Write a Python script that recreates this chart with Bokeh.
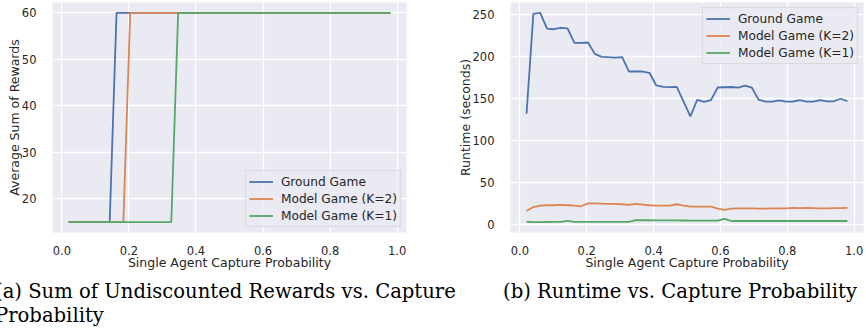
from bokeh.plotting import figure
from bokeh.models import Range1d, FixedTicker, PrintfTickFormatter, Div
from bokeh.layouts import row, column
from bokeh.embed import file_html
from bokeh.resources import INLINE

# ---------------- data ----------------
capture_prob = [0.02, 0.0404, 0.0609, 0.0813, 0.1017, 0.1221, 0.1426, 0.163, 0.1834, 0.2038,
                0.2243, 0.2447, 0.2651, 0.2855, 0.306, 0.3264, 0.3468, 0.3672, 0.3877, 0.4081,
                0.4285, 0.4489, 0.4694, 0.4898, 0.5102, 0.5306, 0.5511, 0.5715, 0.5919, 0.6123,
                0.6328, 0.6532, 0.6736, 0.694, 0.7145, 0.7349, 0.7553, 0.7757, 0.7962, 0.8166,
                0.837, 0.8574, 0.8779, 0.8983, 0.9187, 0.9391, 0.9596, 0.98]

reward_ground = [15, 15, 15, 15, 15, 15, 15, 60, 60, 60, 60, 60, 60, 60, 60, 60, 60, 60, 60, 60,
                 60, 60, 60, 60, 60, 60, 60, 60, 60, 60, 60, 60, 60, 60, 60, 60, 60, 60, 60, 60,
                 60, 60, 60, 60, 60, 60, 60, 60]
reward_k2 = [15, 15, 15, 15, 15, 15, 15, 15, 15, 60, 60, 60, 60, 60, 60, 60, 60, 60, 60, 60,
             60, 60, 60, 60, 60, 60, 60, 60, 60, 60, 60, 60, 60, 60, 60, 60, 60, 60, 60, 60,
             60, 60, 60, 60, 60, 60, 60, 60]
reward_k1 = [15, 15, 15, 15, 15, 15, 15, 15, 15, 15, 15, 15, 15, 15, 15, 15, 60, 60, 60, 60,
             60, 60, 60, 60, 60, 60, 60, 60, 60, 60, 60, 60, 60, 60, 60, 60, 60, 60, 60, 60,
             60, 60, 60, 60, 60, 60, 60, 60]

runtime_ground = [131.5, 250.2, 251.4, 232.8, 232.0, 233.6, 233.1, 215.8, 215.8, 216.2,
                  202.7, 199.2, 198.7, 198.3, 198.7, 181.7, 181.7, 181.7, 180.2, 165.1,
                  163.5, 163.1, 163.5, 145.8, 128.3, 148.1, 145.7, 147.6, 162.7, 163.0,
                  163.3, 162.6, 165.0, 162.5, 148.0, 146.0, 146.0, 147.3, 146.0, 146.0,
                  147.6, 146.0, 146.0, 147.6, 146.3, 146.3, 149.3, 146.3]
runtime_k2 = [15.8, 20.5, 22.2, 22.6, 22.6, 23.0, 22.6, 22.2, 21.4, 24.9,
              24.9, 24.5, 24.2, 24.2, 23.8, 23.0, 24.2, 23.4, 22.6, 22.2,
              22.2, 22.2, 23.8, 22.2, 21.0, 21.0, 21.0, 21.0, 18.6, 17.0,
              18.6, 19.0, 19.0, 19.0, 18.6, 18.6, 18.8, 19.0, 19.0, 19.4,
              19.2, 19.4, 19.2, 19.0, 18.8, 19.2, 19.2, 19.4]
runtime_k1 = [3.0, 2.6, 2.6, 2.7, 2.8, 2.8, 4.0, 2.8, 2.8, 2.8,
              2.8, 2.8, 2.8, 2.8, 2.8, 2.9, 4.8, 4.8, 4.8, 4.7,
              4.7, 4.6, 4.6, 4.5, 4.4, 4.3, 4.3, 4.3, 4.3, 6.5,
              3.9, 3.9, 3.9, 3.9, 3.9, 3.9, 3.9, 3.9, 3.9, 3.9,
              3.9, 3.9, 3.9, 3.9, 3.9, 3.9, 3.9, 3.9]

series_labels = ["Ground Game", "Model Game (K=2)", "Model Game (K=1)"]
colors = ["#4c72b0", "#dd8452", "#55a868"]
x_ticks = [0.0, 0.2, 0.4, 0.6, 0.8, 1.0]
reward_ticks = [20, 30, 40, 50, 60]
runtime_ticks = [0, 50, 100, 150, 200, 250]

TXT = "#262626"


def style(p, yticks, ylabel):
    p.background_fill_color = "#eaeaf2"
    p.border_fill_color = "white"
    p.outline_line_color = None
    p.grid.grid_line_color = "white"
    p.grid.grid_line_width = 1.3
    p.xaxis.ticker = FixedTicker(ticks=x_ticks)
    p.yaxis.ticker = FixedTicker(ticks=yticks)
    p.xaxis.formatter = PrintfTickFormatter(format="%.1f")
    p.xaxis.axis_label = "Single Agent Capture Probability"
    p.yaxis.axis_label = ylabel
    for ax in (p.xaxis[0], p.yaxis[0]):
        ax.axis_line_color = None
        ax.major_tick_line_color = None
        ax.minor_tick_line_color = None
        ax.major_label_text_font = "DejaVu Sans"
        ax.major_label_text_font_size = "11.5px"
        ax.major_label_text_color = TXT
        ax.axis_label_text_font = "DejaVu Sans"
        ax.axis_label_text_font_size = "12.5px"
        ax.axis_label_text_font_style = "normal"
        ax.axis_label_text_color = TXT
    p.xaxis.major_label_standoff = 7
    p.xaxis.axis_label_standoff = -3
    p.yaxis.major_label_standoff = 10
    p.yaxis.axis_label_standoff = -3


def style_legend(p, loc):
    lg = p.legend[0]
    lg.location = loc
    lg.margin = 5
    lg.padding = 3
    lg.spacing = 2
    lg.glyph_width = 24
    lg.glyph_height = 15
    lg.label_height = 15
    lg.label_standoff = 8
    lg.label_text_font = "DejaVu Sans"
    lg.label_text_font_size = "12.2px"
    lg.label_text_color = TXT
    lg.background_fill_color = "#eaeaf2"
    lg.background_fill_alpha = 0.8
    lg.border_line_color = "#cccccc"
    lg.border_line_width = 1


# ---------------- left: rewards ----------------
p1 = figure(frame_width=354, frame_height=230, min_border_left=52, min_border_right=27,
            min_border_top=2, min_border_bottom=42,
            x_range=Range1d(-0.028, 1.028), y_range=Range1d(12.75, 62.25),
            output_backend="svg", toolbar_location=None)
for ys, c, lab in zip([reward_ground, reward_k2, reward_k1], colors, series_labels):
    p1.line(capture_prob, ys, line_color=c, line_width=1.8, legend_label=lab)
style(p1, reward_ticks, "Average Sum of Rewards")
style_legend(p1, "bottom_right")

# ---------------- right: runtime ----------------
p2 = figure(frame_width=353, frame_height=230, min_border_left=77, min_border_right=3,
            min_border_top=2, min_border_bottom=42,
            x_range=Range1d(-0.028, 1.028), y_range=Range1d(-9.8, 263.8),
            output_backend="svg", toolbar_location=None)
for ys, c, lab in zip([runtime_ground, runtime_k2, runtime_k1], colors, series_labels):
    p2.line(capture_prob, ys, line_color=c, line_width=1.8, legend_label=lab)
style(p2, runtime_ticks, "Runtime (seconds)")
style_legend(p2, "top_right")

caption_a1 = "(a) Sum of Undiscounted Rewards vs. Capture"
caption_a2 = "Probability"
caption_b = "(b) Runtime vs. Capture Probability"

cap = Div(text=f'''<div style="position:relative;width:866px;height:57px;font-family:'DejaVu Serif';font-size:19.6px;line-height:24px;color:#000;">
<div style="position:absolute;left:-5px;top:6px;white-space:nowrap;">{caption_a1}</div>
<div style="position:absolute;left:-5px;top:30px;white-space:nowrap;">{caption_a2}</div>
<div style="position:absolute;left:680px;top:6px;white-space:nowrap;transform:translateX(-50%);">{caption_b}</div>
</div>''', width=866, height=57, margin=0)

layout = column(row(p1, p2), cap)
open("out.html", "w").write(file_html(layout, INLINE))
